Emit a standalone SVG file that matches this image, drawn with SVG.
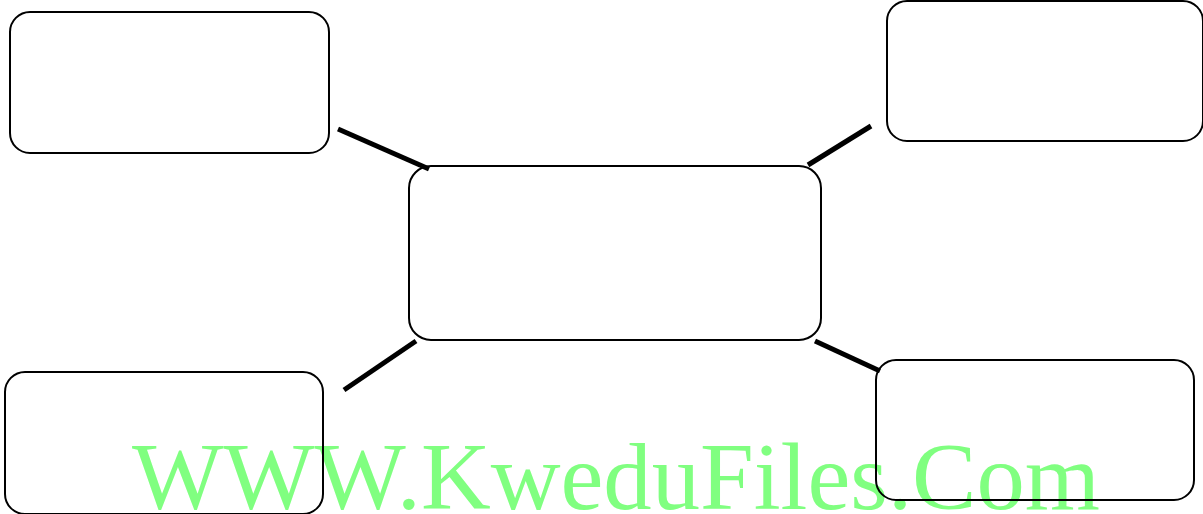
<svg xmlns="http://www.w3.org/2000/svg" width="1203" height="514" viewBox="0 0 1203 514">
<style>
.box{fill:none;stroke:#000;stroke-width:2}
.conn line{stroke:#000;stroke-width:5}
.wm{font-family:"Liberation Serif","Times New Roman",serif;font-size:95px;fill:#80ff80}
</style>
<rect width="1203" height="514" fill="#fff"/>
<text class="wm" x="132" y="509" textLength="968" lengthAdjust="spacingAndGlyphs">WWW.KweduFiles.Com</text>
<g id="node-top-left"><rect class="box" x="10" y="12" width="319" height="141" rx="20"/></g>
<g id="node-top-right"><rect class="box" x="887" y="1" width="316" height="140" rx="20"/></g>
<g id="node-center"><rect class="box" x="409" y="166" width="412" height="174" rx="22"/></g>
<g id="node-bottom-left"><rect class="box" x="5" y="372" width="318" height="142" rx="20"/></g>
<g id="node-bottom-right"><rect class="box" x="876" y="360" width="318" height="140" rx="20"/></g>
<g id="connectors" class="conn">
<line x1="338" y1="129" x2="429" y2="169"/>
<line x1="808" y1="165" x2="871" y2="126"/>
<line x1="416" y1="341" x2="344" y2="390"/>
<line x1="815" y1="341" x2="880" y2="371"/>
</g>
</svg>
